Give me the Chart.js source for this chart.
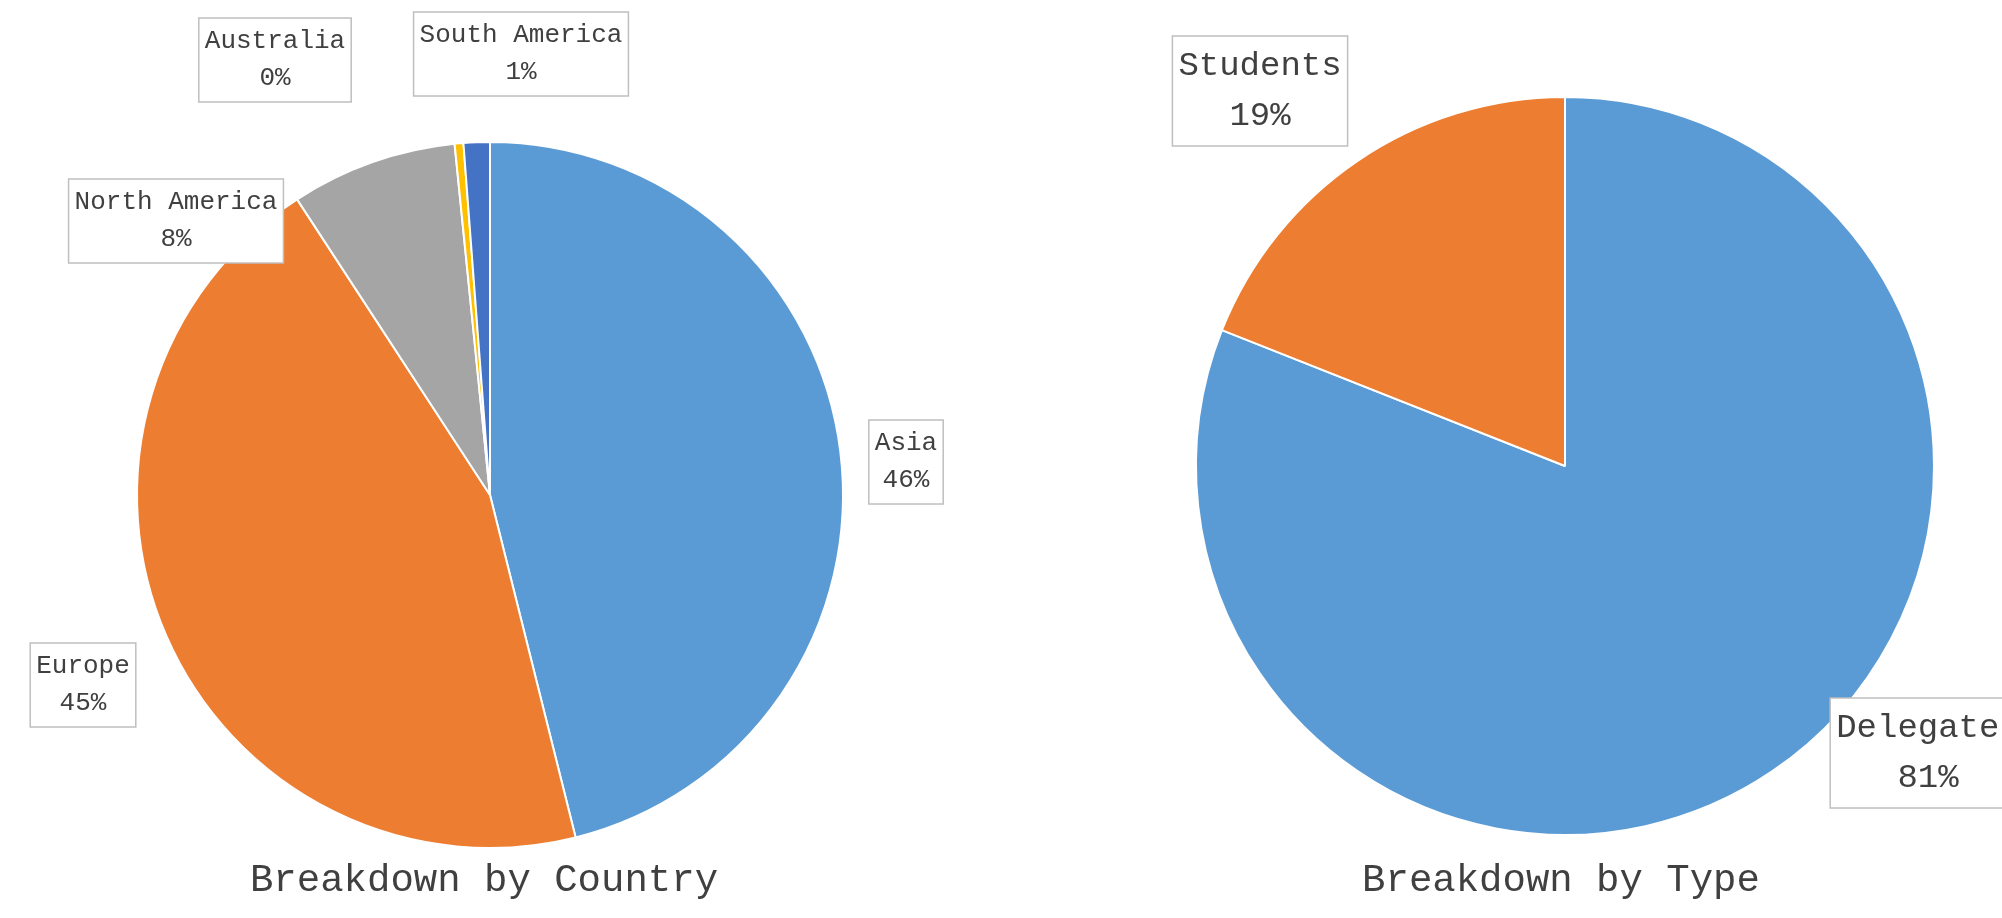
<!DOCTYPE html>
<html>
<head>
<meta charset="utf-8">
<script src="https://cdn.jsdelivr.net/npm/chart.js@4"></script>
<style>
  html, body { margin: 0; padding: 0; background: #fff; }
  body { width: 2002px; height: 918px; position: relative; overflow: hidden; }
  .wrap { position: absolute; top: 0; width: 1001px; height: 918px; }
</style>
</head>
<body>
<div class="wrap" style="left:0"><canvas id="countryChart" width="1001" height="918"></canvas></div>
<div class="wrap" style="left:1001px"><canvas id="typeChart" width="1001" height="918"></canvas></div>
<script>
const countryLabels = ['Asia', 'Europe', 'North America', 'Australia', 'South America'];
const countryValues = [46.1, 44.7, 7.6, 0.4, 1.2];
const countryColors = ['#5b9bd5', '#ed7d31', '#a5a5a5', '#ffc000', '#4472c4'];

const typeLabels = ['Delegates', 'Students'];
const typeValues = [81, 19];
const typeColors = ['#5b9bd5', '#ed7d31'];

const FONT = '"Liberation Mono", "DejaVu Sans Mono", monospace';

// label box centres, in canvas coords (layout only)
const countryLabelPos = [[906, 462], [83, 685], [176, 221], [275, 60], [521, 54]];
const typeLabelPos = [[927, 753], [259, 91]];

function pct(values, i) {
  const total = values.reduce((a, b) => a + b, 0);
  return Math.round((values[i] / total) * 100) + '%';
}

const boxLabels = {
  id: 'boxLabels',
  afterDraw(chart, args, opts) {
    const { ctx } = chart;
    const labels = chart.data.labels;
    const values = chart.data.datasets[0].data;
    ctx.save();
    ctx.font = opts.size + 'px ' + FONT;
    ctx.textAlign = 'center';
    ctx.textBaseline = 'middle';
    labels.forEach((lab, i) => {
      const [cx, cy] = opts.pos[i];
      const lines = [lab, pct(values, i)];
      const w = Math.max(...lines.map((l) => ctx.measureText(l).width)) + opts.padX * 2;
      const h = opts.lineH * 2 + opts.padY * 2;
      ctx.fillStyle = '#ffffff';
      ctx.fillRect(cx - w / 2, cy - h / 2, w, h);
      ctx.strokeStyle = '#bfbfbf';
      ctx.lineWidth = 1.5;
      ctx.strokeRect(cx - w / 2, cy - h / 2, w, h);
      ctx.fillStyle = '#404040';
      ctx.fillText(lines[0], cx, cy - opts.lineH / 2);
      ctx.fillText(lines[1], cx, cy + opts.lineH / 2);
    });
    ctx.font = '39px ' + FONT;
    ctx.fillStyle = '#404040';
    ctx.fillText(opts.title, opts.titleX, 881);
    ctx.restore();
  },
};

function pieChart(id, labels, values, colors, padding, labelOpts) {
  return new Chart(document.getElementById(id), {
    type: 'pie',
    data: {
      labels,
      datasets: [{
        data: values,
        backgroundColor: colors,
        borderColor: '#ffffff',
        borderWidth: 2,
      }],
    },
    options: {
      responsive: false,
      animation: false,
      layout: { padding },
      plugins: {
        legend: { display: false },
        tooltip: { enabled: false },
        boxLabels: labelOpts,
      },
    },
    plugins: [boxLabels],
  });
}

pieChart('countryChart', countryLabels, countryValues, countryColors,
  { left: 136, top: 141, right: 157, bottom: 69 },
  { pos: countryLabelPos, size: 26, lineH: 37, padX: 6, padY: 5, title: 'Breakdown by Country', titleX: 484 });

pieChart('typeChart', typeLabels, typeValues, typeColors,
  { left: 194, top: 96, right: 67, bottom: 82 },
  { pos: typeLabelPos, size: 34, lineH: 50, padX: 6, padY: 5, title: 'Breakdown by Type', titleX: 560 });
</script>
</body>
</html>
